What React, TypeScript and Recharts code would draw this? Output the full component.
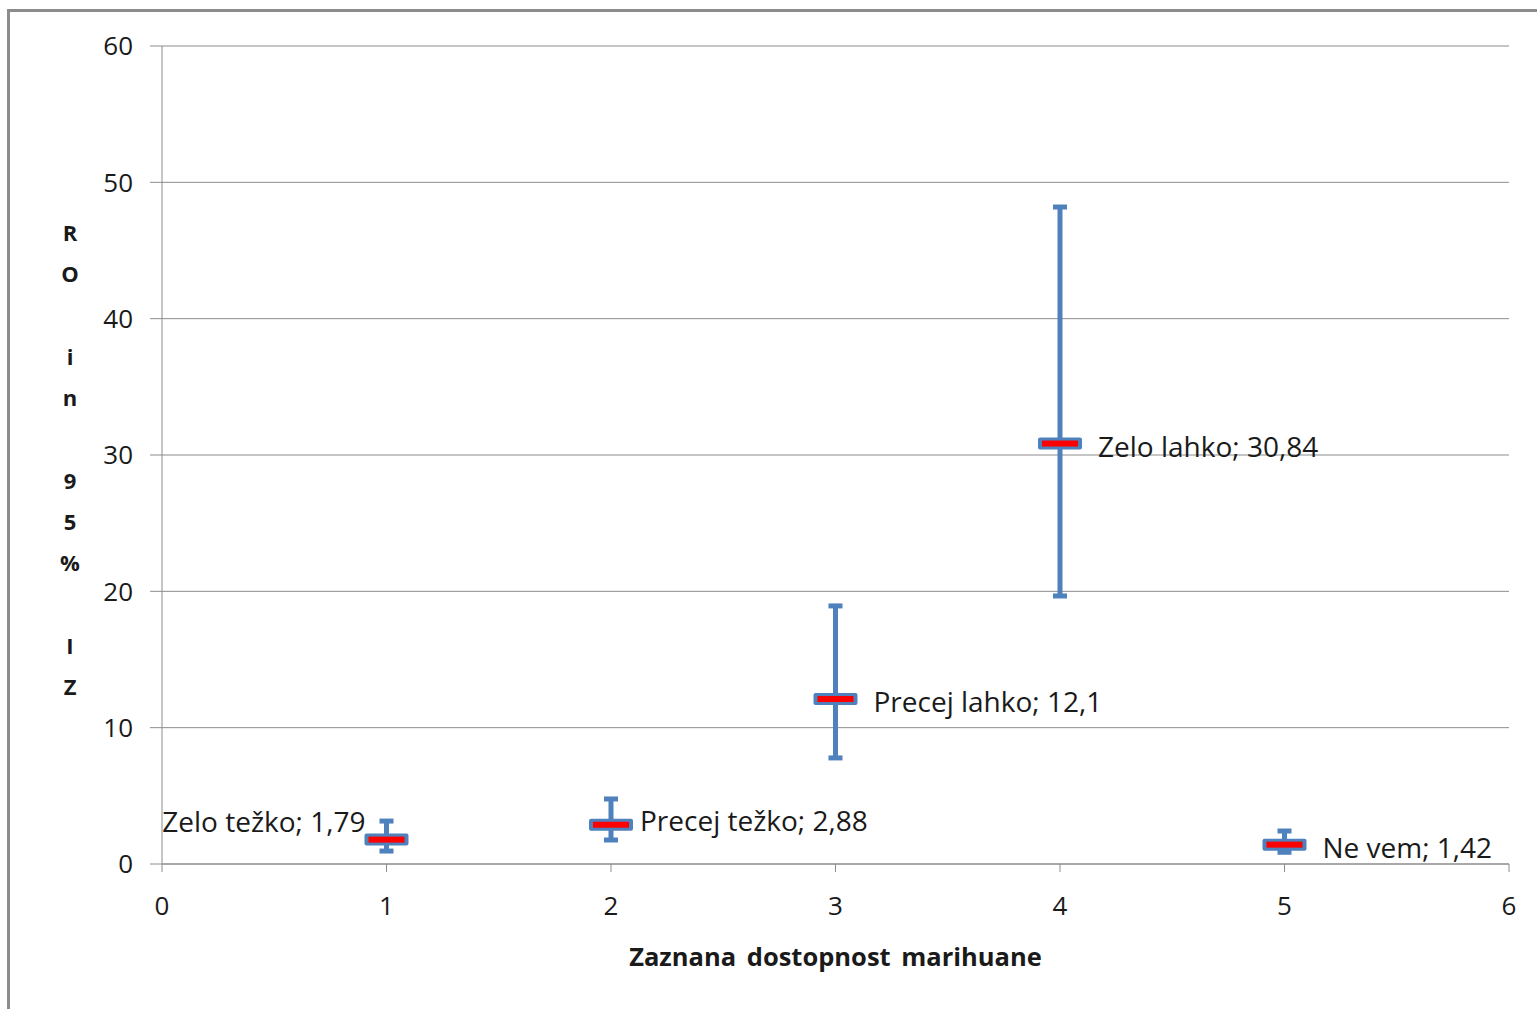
import { CartesianGrid, ComposedChart, ErrorBar, Scatter, XAxis, YAxis } from 'recharts';

const categories = ['Zelo težko', 'Precej težko', 'Precej lahko', 'Zelo lahko', 'Ne vem'];
const xPositions = [1, 2, 3, 4, 5];
const oddsRatios = [1.79, 2.88, 12.1, 30.84, 1.42];
const ciLower = [0.95, 1.76, 7.78, 19.66, 0.86];
const ciUpper = [3.15, 4.77, 18.93, 48.19, 2.42];
const xTicks = [0, 1, 2, 3, 4, 5, 6];
const yTicks = [0, 10, 20, 30, 40, 50, 60];
const xTitle = 'Zaznana dostopnost marihuane';
const yTitle = 'RO in 95% IZ';

const FONT = '"Open Sans", Lato, sans-serif';
const BLUE = '#4f81bd';
const GRID = '#8c8c8c';

const data = categories.map((name, i) => ({
    name,
    x: xPositions[i],
    y: oddsRatios[i],
    err: [oddsRatios[i] - ciLower[i], ciUpper[i] - oddsRatios[i]],
}));

function Marker(props: any) {
    const { cx, cy, payload, index } = props;
    const label = `${payload.name}; ${String(payload.y).replace('.', ',')}`;
    const leftSide = index === 0;
    // label placement roughly as in the original data labels
    const dx = leftSide ? -21 : index === 1 ? 29 : 38;
    const dy = leftSide ? -19 : index === 1 ? -5 : 2;
    return (
        <g>
            <rect x={cx - 22} y={cy - 6} width={44} height={12} rx={2} fill={BLUE} />
            <rect x={cx - 18} y={cy - 3} width={36} height={6} fill="#ff0000" />
            <text
                x={cx + dx}
                y={cy + dy}
                textAnchor={leftSide ? 'end' : 'start'}
                dominantBaseline="central"
                fontFamily={FONT}
                fontSize={28}
                fill="#1a1a1a"
            >
                {label}
            </text>
        </g>
    );
}

function StackedTitle(props: any) {
    const vb = props.viewBox || { x: 0, y: 46, width: 162, height: 818 };
    const chars = yTitle.split('');
    const step = 41.3;
    const mid = vb.y + vb.height / 2 + 4;
    const start = mid - ((chars.length - 1) / 2) * step;
    return (
        <text x={70} fontFamily={FONT} fontWeight={700} fontSize={22} fill="#1a1a1a" textAnchor="middle">
            {chars.map((c, i) => (
                <tspan key={i} x={70} y={start + i * step} dominantBaseline="central">
                    {c === ' ' ? '' : c}
                </tspan>
            ))}
        </text>
    );
}

export default function App() {
    return (
        <div style={{ position: 'absolute', left: 0, top: 0, width: 1537, height: 1009, background: '#fff', overflow: 'hidden' }}>
            <div
                style={{
                    position: 'absolute',
                    left: 7,
                    top: 9,
                    width: 1600,
                    height: 1100,
                    borderLeft: `3px solid ${GRID}`,
                    borderTop: `3px solid ${GRID}`,
                }}
            />
            <ComposedChart
                width={1537}
                height={1009}
                data={data}
                margin={{ top: 46, right: 28, left: 0, bottom: 0 }}
                style={{ position: 'absolute', left: 0, top: 0 }}
            >
                <CartesianGrid vertical={false} stroke={GRID} strokeWidth={1} />
                <XAxis
                    type="number"
                    dataKey="x"
                    domain={[0, 6]}
                    ticks={xTicks}
                    height={145}
                    stroke={GRID}
                    tickSize={8}
                    tickMargin={25}
                    tick={{ fontFamily: FONT, fontSize: 26, fill: '#1a1a1a' }}
                    label={{
                        value: xTitle,
                        position: 'insideBottom',
                        offset: 43,
                        style: { fontFamily: FONT, fontWeight: 700, fontSize: 25.5, wordSpacing: 4, fill: '#1a1a1a' },
                    }}
                />
                <YAxis
                    type="number"
                    domain={[0, 60]}
                    ticks={yTicks}
                    width={162}
                    stroke={GRID}
                    tickSize={12}
                    tickMargin={17}
                    tick={{ fontFamily: FONT, fontSize: 26, fill: '#1a1a1a' }}
                    label={<StackedTitle />}
                />
                <Scatter dataKey="y" shape={<Marker />} isAnimationActive={false}>
                    <ErrorBar dataKey="err" direction="y" width={7} strokeWidth={5} stroke={BLUE} isAnimationActive={false} />
                </Scatter>
            </ComposedChart>
        </div>
    );
}
